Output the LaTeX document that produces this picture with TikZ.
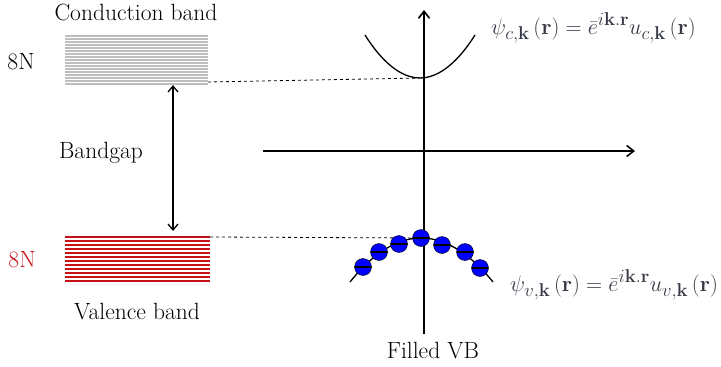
\documentclass[tikz,border=0pt]{standalone}
\usepackage{amsmath}
\usepackage{graphicx}
\usepackage{xcolor}
\usetikzlibrary{arrows.meta}
\definecolor{vbred}{RGB}{200,16,24}
\definecolor{cbgray}{RGB}{190,190,190}
\definecolor{eqgray}{RGB}{55,58,70}
\newcommand{\wavefn}[1]{\scalebox{0.895}{\Huge$\psi_{#1,\mathbf{k}}\left(\mathbf{r}\right) = \bar{e}^{i\mathbf{k}.\mathbf{r}}u_{#1,\mathbf{k}}\left(\mathbf{r}\right)$}}
\tikzset{
  lbl/.style={font=\fontsize{23.5}{26}\selectfont, inner sep=0pt},
  eqn/.style={text=eqgray, inner sep=0pt, anchor=west},
  axisline/.style={line width=1.6pt, -{Straight Barb[length=7pt, width=11pt, line width=1.6pt]}},
  electron/.style={circle, draw=black, fill=blue, minimum size=17pt, inner sep=0pt,
    path picture={\draw[line width=1.3pt] (path picture bounding box.west) -- (path picture bounding box.east);}},
}

\begin{document}
\begin{tikzpicture}[x=1pt, y=-1pt]
  \useasboundingbox (0,0) rectangle (721,367);
  % bands
  \foreach \y in {36,39,...,84}
    \draw[cbgray, line width=1.4pt] (65,\y) -- (208,\y);
  \foreach \y in {237,241,...,281}
    \draw[vbred, line width=1.8pt] (65,\y) -- (210,\y);
  \node[lbl] (cblabel) at (136,12) {Conduction band};
  \node[lbl] (cbcount) at (21,62) {8N};
  \node[lbl] (gaplabel) at (101,153) {Bandgap};
  \node[lbl, text=vbred] (vbcount) at (22,260) {8N};
  \node[lbl] (vblabel) at (137,312) {Valence band};
  \coordinate (cbedge) at (208,82);
  \coordinate (vbedge) at (210,237);
  \coordinate (gaptop) at (173,85);
  \coordinate (gapbot) at (173,231);
  \draw[line width=1.3pt, {Straight Barb[length=6pt, width=10pt, line width=1.3pt]}-{Straight Barb[length=6pt, width=10pt, line width=1.3pt]}] (gaptop) -- (gapbot);

  % axes
  \coordinate (ybot) at (424,334);
  \coordinate (ytop) at (424,10);
  \coordinate (xleft) at (263,151);
  \coordinate (xright) at (635,151);
  \draw[axisline] (ybot) -- (ytop);
  \draw[axisline] (xleft) -- (xright);
  \node[lbl] (filled) at (433,351) {Filled VB};

  % dispersions
  \coordinate (cmin) at (420,78);
  \coordinate (vmax) at (421,238);
  \draw[line width=1.3pt] (365,35) parabola bend (cmin) (475,35);
  \draw[line width=1.3pt] (350,282) parabola bend (vmax) (493,282);
  \draw[dashed, line width=0.8pt] (cbedge) -- (cmin);
  \draw[dashed, line width=0.8pt] (vbedge) -- (vmax);
  \foreach \px/\py [count=\i] in {363/267, 379/252, 399/244, 421/238, 442/245, 465/252, 480/268}
    \node[electron] (e\i) at (\px,\py) {};

  \node[eqn] (psic) at (491,28) {\wavefn{c}};
  \node[eqn] (psiv) at (510,285) {\wavefn{v}};
\end{tikzpicture}
\end{document}
